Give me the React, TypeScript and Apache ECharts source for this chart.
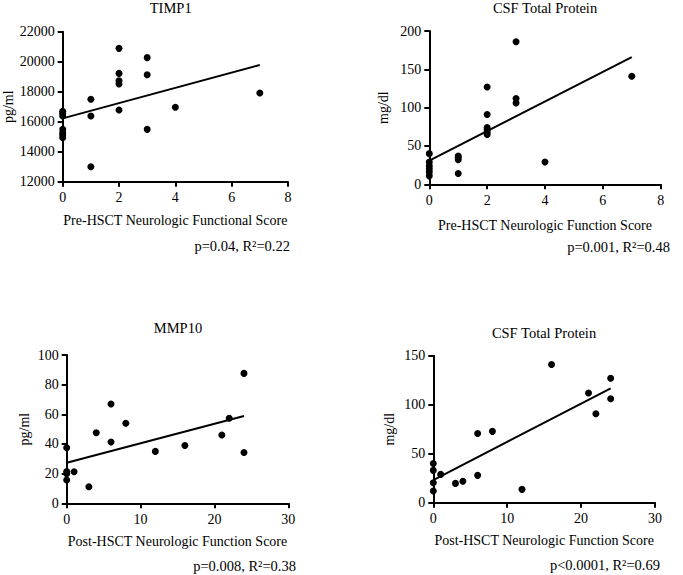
import React, { useEffect, useRef } from "react";
import * as echarts from "echarts";

// Panel 1: TIMP1 vs Pre-HSCT score
const timp1X = [0, 0, 0, 0, 0, 0, 0, 1, 1, 1, 2, 2, 2, 2, 2, 3, 3, 3, 4, 7];
const timp1Y = [16700, 16550, 16380, 15490, 15270, 15110, 14930, 17500, 16380, 13000, 20890, 19220, 18730, 18510, 16780, 20270, 19130, 15490, 16960, 17910];
const timp1Fit = [[0, 16220], [7, 19780]];

// Panel 2: CSF Total Protein vs Pre-HSCT score
const csfPreX = [0, 0, 0, 0, 0, 0, 1, 1, 1, 1, 2, 2, 2, 2, 2, 2, 3, 3, 3, 4, 7];
const csfPreY = [40, 29, 24, 20, 16, 11, 37, 35, 32, 14, 127, 91, 74, 71, 68, 65, 186, 112, 106, 29, 141];
const csfPreFit = [[0, 31], [7, 166]];

// Panel 3: MMP10 vs Post-HSCT score
const mmpX = [0, 0, 0, 0, 1, 3, 4, 6, 6, 8, 12, 16, 21, 22, 24, 24];
const mmpY = [37.5, 21.5, 20, 15.7, 21.3, 11.2, 47.6, 67, 41.3, 54, 35, 39, 46, 57.3, 87.6, 34.2];
const mmpFit = [[0, 27.4], [24, 58.9]];

// Panel 4: CSF Total Protein vs Post-HSCT score
const csfPostX = [0, 0, 0, 0, 1, 3, 4, 6, 6, 8, 12, 16, 21, 22, 24, 24];
const csfPostY = [40, 33, 20.4, 11.9, 28.9, 19.7, 21.8, 27.9, 70.7, 72.8, 13.6, 141, 111.9, 90.8, 126.9, 106.1];
const csfPostFit = [[0, 23.1], [24, 116.7]];

const titles = ["TIMP1", "CSF Total Protein", "MMP10", "CSF Total Protein"];
const xNames = [
  "Pre-HSCT Neurologic Functional Score",
  "Pre-HSCT Neurologic Function Score",
  "Post-HSCT Neurologic Function Score",
  "Post-HSCT Neurologic Function Score",
];
const yNames = ["pg/ml", "mg/dl", "pg/ml", "mg/dl"];
const stats = ["p=0.04, R²=0.22", "p=0.001, R²=0.48", "p=0.008, R²=0.38", "p<0.0001, R²=0.69"];

const FONT = '"Liberation Serif", "Times New Roman", serif';

export default function App() {
  const ref = useRef<HTMLDivElement>(null);
  useEffect(() => {
    if (!ref.current) return;
    const chart = echarts.init(ref.current, null, { renderer: "svg" });

    const grids = [
      { left: 62.7, top: 31.7, width: 225.3, height: 150 },
      { left: 429.3, top: 31, width: 231.4, height: 153.3 },
      { left: 66.7, top: 355, width: 221.6, height: 148.3 },
      { left: 433.3, top: 355.7, width: 221.7, height: 147 },
    ];
    const xRanges = [
      { min: 0, max: 8, interval: 2 },
      { min: 0, max: 8, interval: 2 },
      { min: 0, max: 30, interval: 10 },
      { min: 0, max: 30, interval: 10 },
    ];
    const yRanges = [
      { min: 12000, max: 22000, interval: 2000 },
      { min: 0, max: 200, interval: 50 },
      { min: 0, max: 100, interval: 20 },
      { min: 0, max: 150, interval: 50 },
    ];
    const xGaps = [32, 34, 31, 31];
    const yGaps = [45, 39, 35, 37];
    const titlePos = [
      [170.7, 8],
      [545, 8.3],
      [178, 327.7],
      [544, 332.7],
    ];
    const statPos = [
      [290, 246],
      [670, 246.7],
      [296, 566],
      [660, 565],
    ];

    const labelStyle = { color: "#000", fontFamily: FONT, fontSize: 14 };
    const axisCommon = {
      axisLine: { show: true, lineStyle: { color: "#000", width: 2 } },
      axisTick: { show: true, length: 5, lineStyle: { color: "#000", width: 2 } },
      splitLine: { show: false },
      nameTextStyle: { color: "#000", fontFamily: FONT, fontSize: 14 },
    };

    const pts = (xs: number[], ys: number[]) => xs.map((x, i) => [x, ys[i]]);
    const scatterData = [
      pts(timp1X, timp1Y),
      pts(csfPreX, csfPreY),
      pts(mmpX, mmpY),
      pts(csfPostX, csfPostY),
    ];
    const fits = [timp1Fit, csfPreFit, mmpFit, csfPostFit];

    const series: any[] = [];
    for (let i = 0; i < 4; i++) {
      series.push({
        type: "scatter",
        xAxisIndex: i,
        yAxisIndex: i,
        data: scatterData[i],
        symbolSize: 7,
        itemStyle: { color: "#000", opacity: 1 },
      });
      series.push({
        type: "line",
        xAxisIndex: i,
        yAxisIndex: i,
        data: fits[i],
        showSymbol: false,
        lineStyle: { color: "#000", width: 2 },
      });
    }

    const graphic: any[] = [];
    for (let i = 0; i < 4; i++) {
      graphic.push({
        type: "text",
        x: titlePos[i][0],
        y: titlePos[i][1],
        style: {
          text: titles[i],
          fontFamily: FONT,
          fontSize: 14.5,
          fill: "#000",
          textAlign: "center",
          textVerticalAlign: "middle",
        },
      });
      graphic.push({
        type: "text",
        x: statPos[i][0],
        y: statPos[i][1],
        style: {
          text: stats[i],
          fontFamily: FONT,
          fontSize: 14.5,
          fill: "#000",
          textAlign: "right",
          textVerticalAlign: "middle",
        },
      });
    }

    chart.setOption({
      animation: false,
      textStyle: { fontFamily: FONT, color: "#000" },
      grid: grids.map((g) => ({ ...g, containLabel: false, outerBoundsMode: "none" })),
      xAxis: xRanges.map((r, i) => ({
        type: "value",
        gridIndex: i,
        ...r,
        ...axisCommon,
        axisLabel: { ...labelStyle, margin: 9, formatter: (v: number) => String(v) },
        name: xNames[i],
        nameLocation: "middle",
        nameGap: xGaps[i],
      })),
      yAxis: yRanges.map((r, i) => ({
        type: "value",
        gridIndex: i,
        ...r,
        ...axisCommon,
        axisLabel: { ...labelStyle, margin: 8, formatter: (v: number) => String(v) },
        name: yNames[i],
        nameLocation: "middle",
        nameGap: yGaps[i],
      })),
      series,
      graphic,
    });
    return () => chart.dispose();
  }, []);
  return (
    <div
      ref={ref}
      style={{ position: "fixed", left: 0, top: 0, width: 683, height: 575, background: "#fff" }}
    />
  );
}
